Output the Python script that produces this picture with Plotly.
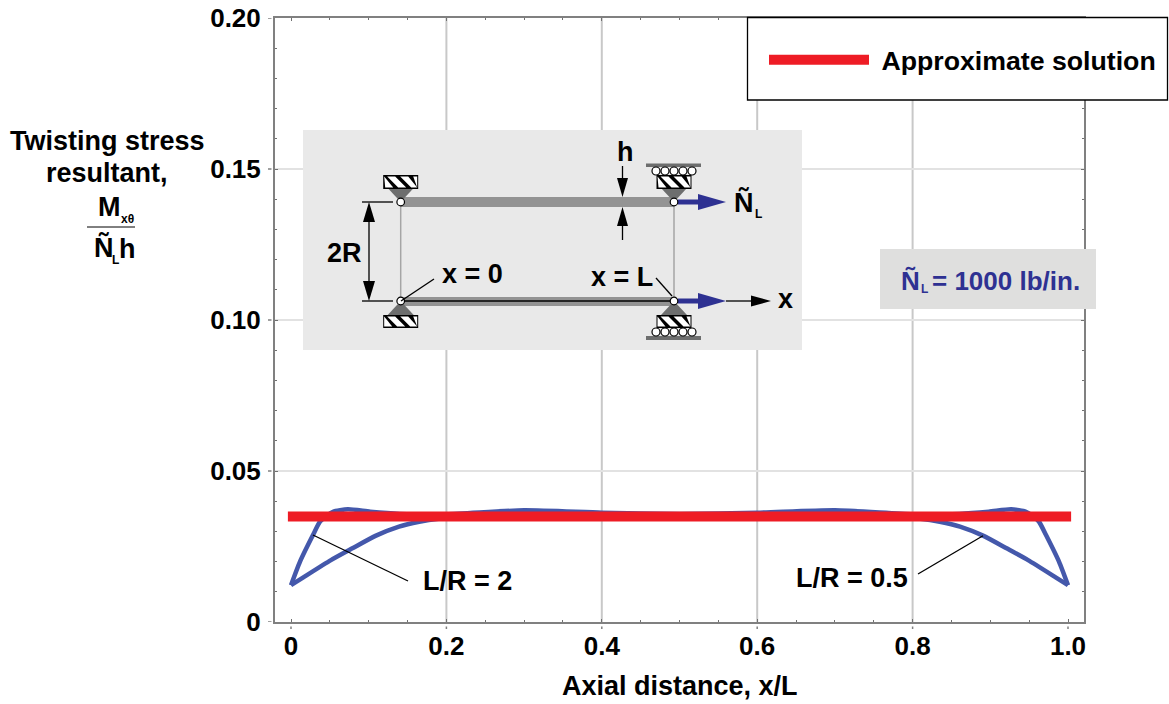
import plotly.graph_objects as go

# ---- data ----
x_long = [0, 0.0116, 0.0283, 0.0373, 0.046, 0.054, 0.0733, 0.102, 0.14, 0.2, 0.3, 0.4, 0.5, 0.6, 0.7, 0.8, 0.86, 0.898, 0.9267, 0.946, 0.954, 0.9627, 0.9717, 0.9884, 1]
y_long = [0.0122, 0.0200, 0.0288, 0.0332, 0.0352, 0.0365, 0.0373, 0.0365, 0.0358, 0.0357, 0.0370, 0.0362, 0.0358, 0.0362, 0.0370, 0.0357, 0.0358, 0.0365, 0.0373, 0.0365, 0.0352, 0.0332, 0.0288, 0.0200, 0.0122]
x_short = [0, 0.0159, 0.0514, 0.079, 0.1094, 0.139, 0.165, 0.19, 0.22, 0.26, 0.3, 0.5, 0.7, 0.74, 0.78, 0.81, 0.835, 0.861, 0.8906, 0.921, 0.9486, 0.9841, 1]
y_short = [0.0122, 0.0148, 0.0205, 0.0244, 0.0286, 0.0316, 0.0332, 0.0342, 0.0348, 0.0352, 0.0354, 0.0354, 0.0354, 0.0352, 0.0348, 0.0342, 0.0332, 0.0316, 0.0286, 0.0244, 0.0205, 0.0148, 0.0122]
x_approx = [-0.004, 1.004]
y_approx = [0.0349, 0.0349]
x_ticks = [0, 0.2, 0.4, 0.6, 0.8, 1.0]
x_labels = ["0", "0.2", "0.4", "0.6", "0.8", "1.0"]
x_grid = [0.2, 0.4, 0.6, 0.8]
y_ticks = [0, 0.05, 0.10, 0.15, 0.20]
y_labels = ["0", "0.05", "0.10", "0.15", "0.20"]

# ---- page layout ----
W, H = 1169, 704
L, R, T, B = 275, 1084, 18, 622
FONT = "Liberation Sans"
BLUE = "#2e3192"
CURVE = "#4458ab"
RED = "#ee1c25"

def px(x):
    return (x - L) / (R - L)

def py(y):
    return (B - y) / (B - T)

shapes = []
annots = []

def poly(pts, fill, line=None, width=0):
    d = "M" + " L".join(f"{px(a):.5f},{py(b):.5f}" for a, b in pts) + " Z"
    shapes.append(dict(type="path", xref="paper", yref="paper", path=d, fillcolor=fill,
                       line=dict(color=line or fill, width=width)))

def rect(x0, y0, x1, y1, fill, line=None, width=0):
    shapes.append(dict(type="rect", xref="paper", yref="paper", x0=px(x0), x1=px(x1),
                       y0=py(y0), y1=py(y1), fillcolor=fill,
                       line=dict(color=line or fill, width=width)))

def seg(x0, y0, x1, y1, color="black", width=1.3):
    shapes.append(dict(type="line", xref="paper", yref="paper", x0=px(x0), x1=px(x1),
                       y0=py(y0), y1=py(y1), line=dict(color=color, width=width)))

def circ(cx, cy, r, fill="white", line="black", width=1.2):
    shapes.append(dict(type="circle", xref="paper", yref="paper", x0=px(cx - r), x1=px(cx + r),
                       y0=py(cy - r), y1=py(cy + r), fillcolor=fill,
                       line=dict(color=line, width=width)))

def text(cx, cy, s, size=27, color="black", family=FONT):
    annots.append(dict(xref="paper", yref="paper", x=px(cx), y=py(cy), text=s, showarrow=False,
                       xanchor="center", yanchor="middle",
                       font=dict(family=family, size=size, color=color, weight="bold")))

def hatch(x0, y0, x1, y1):
    rect(x0, y0, x1, y1, "black")
    h = y1 - y0
    for a in (x0 - 9, x0 + 4, x0 + 17, x0 + 30):
        pts = [(a, y0 + 1.5), (a + 8, y0 + 1.5), (a + 8 + h - 3, y1 - 1.5), (a + h - 3, y1 - 1.5)]
        poly([(min(max(p, x0 + 1), x1 - 1), q) for p, q in pts], "white")

GREY_D = "#6d6e6e"
GREY_B = "#939393"

# x grid without lines at the two ends, below the traces
for g in x_grid:
    shapes.append(dict(type="line", xref="x", yref="paper", x0=g, x1=g, y0=0, y1=1, layer="below",
                       line=dict(color="#c8c8c8", width=2)))
# small detached major tick dots outside the frame
for t in x_ticks:
    shapes.append(dict(type="line", xref="x", yref="paper", x0=t, x1=t, y0=py(626.5), y1=py(629),
                       line=dict(color="#808080", width=1.5)))
for t in y_ticks:
    shapes.append(dict(type="line", xref="paper", yref="y", x0=px(268), x1=px(271.5), y0=t, y1=t,
                       line=dict(color="#808080", width=1.5)))

# grey diagram panel
rect(303, 130, 802, 350, "#e9e9e9")
# struts
seg(400.7, 202, 400.7, 301, "#a5a5a5", 1.5)
seg(674, 202, 674, 301, "#a5a5a5", 1.5)
# shell walls
rect(401, 197, 674, 207, GREY_B)
rect(401, 297, 674, 306, GREY_B)
seg(401, 301, 674, 301, "black", 1.3)
# supports
for cx, rollers in ((400.7, False), (674, True)):
    poly([(cx, 202), (cx - 13, 188), (cx + 13, 188)], GREY_D)
    poly([(cx, 301), (cx - 13, 315), (cx + 13, 315)], GREY_D)
    hatch(cx - 17.5, 175, cx + 17.5, 189)
    hatch(cx - 17.5, 315, cx + 17.5, 328)
    if rollers:
        rect(cx - 28, 163.5, cx + 27, 167, "#6d6e6e")
        rect(cx - 28, 336, cx + 27, 340, "#6d6e6e")
        for d in (-18, -9, 0, 9, 18):
            circ(cx + d, 171, 4)
            circ(cx + d, 332, 4)
# load arrows
for yy in (202, 301):
    rect(678, yy - 2.5, 700, yy + 2.5, BLUE)
    poly([(698, yy - 8), (726, yy), (698, yy + 8)], BLUE)
seg(726, 301, 755, 301)
poly([(751, 295.5), (771, 301), (751, 306.5)], "black")
# pins
for cx, cy in ((400.7, 202), (674, 202), (400.7, 301), (674, 301)):
    circ(cx, cy, 3.8)
# 2R dimension
seg(362, 202, 393, 202)
seg(362, 301, 393, 301)
seg(369, 210, 369, 293)
poly([(369, 202), (363, 222), (375, 222)], "black")
poly([(369, 301), (363, 281), (375, 281)], "black")
# h dimension
seg(622.5, 166, 622.5, 185)
seg(622.5, 220, 622.5, 240)
poly([(622.5, 197), (617, 178), (628, 178)], "black")
poly([(622.5, 207), (617, 226), (628, 226)], "black")
# leaders
seg(401, 301, 434, 279)
seg(656, 278, 672, 296)
seg(313, 535, 408, 581)
seg(918, 574, 983, 535.7)

text(625, 152, "h")
text(344, 253, "2R")
text(472, 274, "x = 0")
text(622, 277, "x = L")
text(785, 299, "x")
text(744, 203, "Ñ")
text(758, 214, "L", 12)
text(467, 581, "L/R = 2")
text(852, 578, "L/R = 0.5")

# load note
rect(880, 249, 1096, 309, "#dfdfde")
text(910, 281, "Ñ", 26, BLUE)
text(924, 289, "L", 12, BLUE)
text(1006, 281, "= 1000 lb/in.", 26, BLUE)

# legend box
rect(747.5, 17.5, 1167.5, 100, "white", "black", 1.3)

# y-axis title
text(107, 141, "Twisting stress")
text(107, 173, "resultant,")
text(109, 207, "M")
text(127, 219, "x\u03b8", 12)
seg(87, 227, 135, 227, "black", 1)
text(104, 248, "Ñ")
text(115, 260, "L", 12)
text(127, 249, "h")

# x-axis title
text(680, 686, "Axial distance, x/L")

fig = go.Figure()
fig.add_trace(go.Scatter(x=x_long, y=y_long, mode="lines", showlegend=False, name="L/R = 2",
                         line=dict(color=CURVE, width=4.5, shape="spline", smoothing=0.6)))
fig.add_trace(go.Scatter(x=x_short, y=y_short, mode="lines", showlegend=False, name="L/R = 0.5",
                         line=dict(color=CURVE, width=4.5, shape="spline", smoothing=0.6)))
fig.add_trace(go.Scatter(x=x_approx, y=y_approx, mode="lines", name="\u00a0Approximate solution",
                         line=dict(color=RED, width=10)))

axis_common = dict(showline=True, linecolor="#808080", linewidth=2, mirror="ticks", ticks="inside",
                   ticklen=3, tickcolor="#707070", tickwidth=1, zeroline=False,
                   tickfont=dict(family=FONT, size=26, color="black", weight="bold"))
fig.update_layout(
    width=W, height=H, autosize=False, paper_bgcolor="white", plot_bgcolor="white",
    margin=dict(l=L, r=W - R, t=T, b=H - B, pad=0, autoexpand=False),
    font=dict(family=FONT, size=26, color="black"),
    shapes=shapes, annotations=annots,
    showlegend=True,
    legend=dict(x=px(764), y=py(36), xanchor="left", yanchor="top", bgcolor="rgba(0,0,0,0)",
                borderwidth=0, itemwidth=100,
                font=dict(family=FONT, size=26.7, color="black", weight="bold")),
)
fig.update_xaxes(range=[-16 / 777, 1 + 16 / 777], tickvals=x_ticks, ticktext=x_labels,
                 showgrid=False, ticklabelstandoff=0,
                 minor=dict(dtick=0.05, ticks="inside", ticklen=2, tickcolor="#707070", showgrid=False),
                 **axis_common)
fig.update_yaxes(range=[0, 0.2], tickvals=y_ticks, ticktext=y_labels,
                 showgrid=True, gridcolor="#e2e2e2", gridwidth=2, ticklabelstandoff=7,
                 minor=dict(dtick=0.01, ticks="inside", ticklen=2, tickcolor="#707070", showgrid=False),
                 **axis_common)
page_fix = """
document.body.style.margin='0';
document.documentElement.style.overflow='hidden';
var gd=document.getElementById('{plot_id}');
gd.style.position='absolute';gd.style.left='0';gd.style.top='0';
"""
fig.write_html("out.html", config=dict(displayModeBar=False), post_script=page_fix)
